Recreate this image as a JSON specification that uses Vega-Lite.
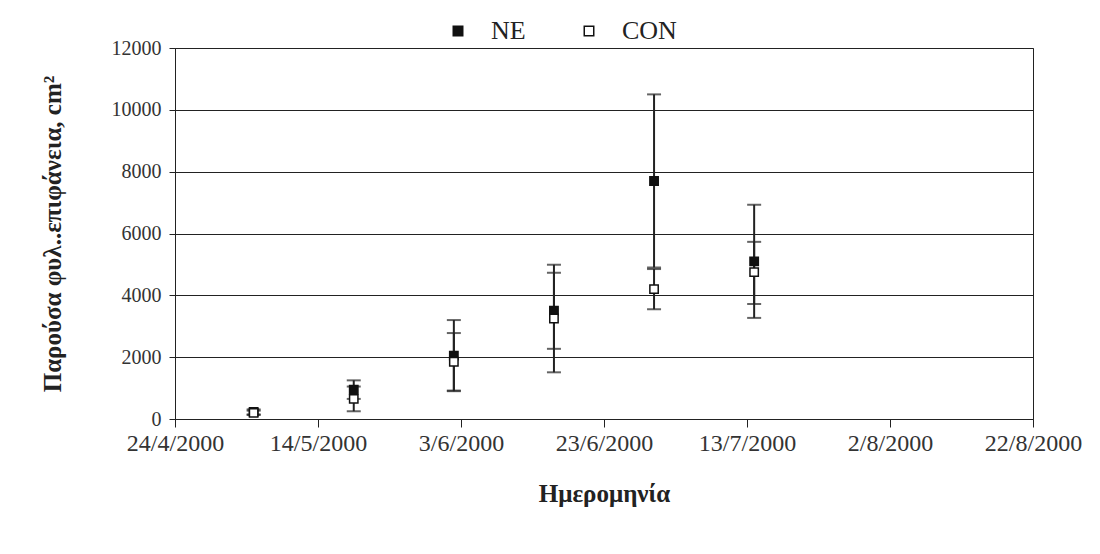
{
  "$schema": "https://vega.github.io/schema/vega-lite/v6.json",
  "width": 858,
  "height": 371,
  "autosize": {"type": "none"},
  "padding": {"left": 175, "top": 48, "right": 67, "bottom": 135},
  "background": "white",
  "config": {
    "font": "Liberation Serif",
    "view": {"stroke": "#222", "strokeWidth": 1},
    "axis": {"labelFont": "Liberation Serif", "titleFont": "Liberation Serif", "labelColor": "#333", "titleColor": "#222", "labelFontSize": 19, "titleFontSize": 25, "domainColor": "#222", "tickColor": "#222"}
  },
  "data": {"values": [
    {"date": "2000-05-05", "series": "NE", "value": 230, "lo": 150, "hi": 310},
    {"date": "2000-05-05", "series": "CON", "value": 200, "lo": 130, "hi": 270},
    {"date": "2000-05-19", "series": "NE", "value": 950, "lo": 650, "hi": 1250},
    {"date": "2000-05-19", "series": "CON", "value": 650, "lo": 250, "hi": 1050},
    {"date": "2000-06-02", "series": "NE", "value": 2050, "lo": 900, "hi": 3200},
    {"date": "2000-06-02", "series": "CON", "value": 1850, "lo": 920, "hi": 2780},
    {"date": "2000-06-16", "series": "NE", "value": 3500, "lo": 2270, "hi": 4730},
    {"date": "2000-06-16", "series": "CON", "value": 3250, "lo": 1510, "hi": 4990},
    {"date": "2000-06-30", "series": "NE", "value": 7700, "lo": 4900, "hi": 10500},
    {"date": "2000-06-30", "series": "CON", "value": 4200, "lo": 3550, "hi": 4850},
    {"date": "2000-07-14", "series": "NE", "value": 5100, "lo": 3270, "hi": 6930},
    {"date": "2000-07-14", "series": "CON", "value": 4750, "lo": 3720, "hi": 5730}
  ]},
  "encoding": {
    "x": {
      "field": "date", "type": "temporal",
      "scale": {"type": "utc", "domain": [{"year": 2000, "month": 4, "date": 24, "utc": true}, {"year": 2000, "month": 8, "date": 22, "utc": true}]},
      "axis": {
        "title": "Ημερομηνία", "titleFontWeight": "bold", "titlePadding": 26,
        "values": [
          {"year": 2000, "month": 4, "date": 24, "utc": true},
          {"year": 2000, "month": 5, "date": 14, "utc": true},
          {"year": 2000, "month": 6, "date": 3, "utc": true},
          {"year": 2000, "month": 6, "date": 23, "utc": true},
          {"year": 2000, "month": 7, "date": 13, "utc": true},
          {"year": 2000, "month": 8, "date": 2, "utc": true},
          {"year": 2000, "month": 8, "date": 22, "utc": true}
        ],
        "labelExpr": "utcFormat(datum.value, '%-d/%-m/%Y')",
        "labelFontSize": 24,
        "grid": false, "tickSize": 8, "labelPadding": 4, "labelFlush": false, "labelOverlap": false
      }
    }
  },
  "layer": [
    {
      "mark": {"type": "rule", "color": "#222", "strokeWidth": 2},
      "encoding": {
        "y": {"field": "lo", "type": "quantitative"},
        "y2": {"field": "hi"}
      }
    },
    {
      "mark": {"type": "tick", "orient": "horizontal", "color": "#222", "size": 14, "thickness": 2},
      "encoding": {"y": {"field": "lo", "type": "quantitative"}}
    },
    {
      "mark": {"type": "tick", "orient": "horizontal", "color": "#222", "size": 14, "thickness": 2},
      "encoding": {"y": {"field": "hi", "type": "quantitative"}}
    },
    {
      "mark": {"type": "point", "shape": "square", "size": 70, "strokeWidth": 1.5, "opacity": 1},
      "encoding": {
        "y": {
          "field": "value", "type": "quantitative",
          "scale": {"domain": [0, 12000]},
          "axis": {
            "title": "Παρούσα φυλ..επιφάνεια, cm²", "titleFontWeight": "bold", "titlePadding": 46,
            "values": [0, 2000, 4000, 6000, 8000, 10000, 12000], "format": "d",
            "labelFontSize": 20,
            "grid": true, "gridColor": "#222", "gridWidth": 1, "tickSize": 6, "labelPadding": 8
          }
        },
        "fill": {
          "field": "series", "type": "nominal",
          "scale": {"domain": ["NE", "CON"], "range": ["#111", "#ffffff"]},
          "legend": {
            "title": null, "orient": "none", "direction": "horizontal", "legendX": 270, "legendY": -30,
            "symbolType": "square", "symbolSize": 90, "symbolStrokeColor": "#111", "symbolStrokeWidth": 1.5,
            "labelFont": "Liberation Serif", "labelFontSize": 26, "labelColor": "#222", "columnPadding": 50, "labelOffset": 20
          }
        },
        "stroke": {"value": "#111"},
        "shape": {"value": "square"}
      }
    }
  ]
}
